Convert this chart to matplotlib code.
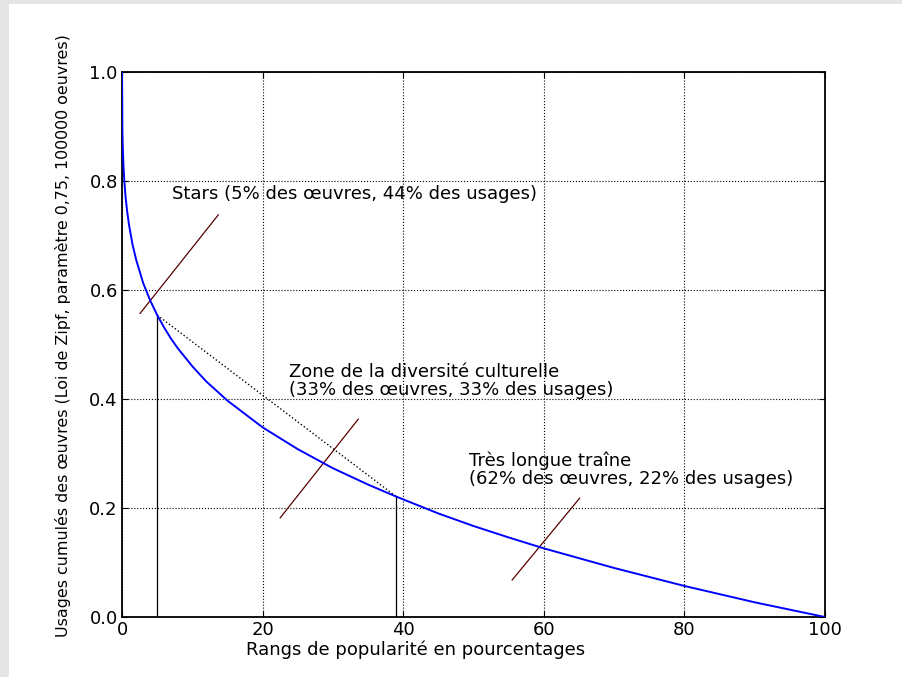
import numpy as np
import matplotlib.pyplot as plt
from matplotlib.patches import Rectangle

# rang (en % des oeuvres) et part cumulée restante des usages
rangs = [0, 0.05, 0.1, 0.2, 0.3, 0.5, 0.75, 1, 1.5, 2, 3, 4, 5, 6, 7, 8, 10, 12,
         15, 20, 25, 30, 35, 39, 45, 50, 55, 60, 70, 80, 90, 100]
usages = [1.0, 0.894, 0.864, 0.829, 0.805, 0.771, 0.742, 0.719, 0.683, 0.656,
          0.613, 0.581, 0.554, 0.531, 0.510, 0.492, 0.460, 0.432, 0.397, 0.348,
          0.308, 0.273, 0.243, 0.221, 0.190, 0.167, 0.146, 0.126, 0.090, 0.057,
          0.027, 0.0]

# bornes des zones
x_stars, y_stars = 5, 0.554
x_traine, y_traine = 39, 0.221

# traits de renvoi vers les textes
renvois = [((2.56, 13.7), (0.557, 0.738)),
           ((22.5, 33.6), (0.182, 0.363)),
           ((55.5, 65.1), (0.068, 0.218))]

textes = [(7.1, 0.776, "Stars (5% des œuvres, 44% des usages)"),
          (23.75, 0.433, "Zone de la diversité culturelle\n(33% des œuvres, 33% des usages)"),
          (49.4, 0.270, "Très longue traîne\n(62% des œuvres, 22% des usages)")]

plt.rcParams['font.family'] = ['DejaVu Sans']
plt.rcParams['xtick.direction'] = 'in'
plt.rcParams['ytick.direction'] = 'in'
plt.rcParams['xtick.top'] = True
plt.rcParams['ytick.right'] = True

fig = plt.figure(figsize=(9.02, 6.77), dpi=100)
fig.patch.set_facecolor('#e5e5e5')
fig.patches.append(Rectangle((9 / 902, 0), 1, 1 - 4 / 677, transform=fig.transFigure,
                             facecolor='white', edgecolor='none', zorder=-10))
ax = fig.add_axes([0.1353, 0.0886, 0.7793, 0.805])

ax.plot(rangs, usages, color='b', lw=1.4, zorder=3)
ax.plot([x_stars, x_stars], [0, y_stars], color='k', lw=0.9)
ax.plot([x_traine, x_traine], [0, y_traine], color='k', lw=0.9)
ax.plot([x_stars, x_traine], [y_stars, y_traine], color='k', ls=':', lw=1.0)

for xs, ys in renvois:
    ax.plot(xs, ys, color='#5a0000', lw=0.9)

for x, y, t in textes:
    ax.text(x, y, t, fontsize=13, ha='left', va='center', linespacing=0.95)

ax.set_xlim(0, 100)
ax.set_ylim(0, 1)
ax.set_xticks([0, 20, 40, 60, 80, 100])
ax.set_yticks([0, 0.2, 0.4, 0.6, 0.8, 1.0])
ax.set_yticklabels(['0.0', '0.2', '0.4', '0.6', '0.8', '1.0'])
ax.tick_params(labelsize=13, length=4, pad=3)
ax.grid(True, color='k', ls=':', lw=0.8)
for s in ax.spines.values():
    s.set_linewidth(1.3)

ax.set_xlabel("Rangs de popularité en pourcentages", fontsize=13, labelpad=1)
ax.set_ylabel("Usages cumulés des œuvres (Loi de Zipf, paramètre 0,75, 100000 oeuvres)",
              fontsize=11.4, labelpad=13)
# titres d'axes légèrement décentrés
ax.xaxis.label.set_x(0.4175)
ax.yaxis.label.set_y(0.5165)

fig.savefig('out.png', dpi=100, facecolor=fig.get_facecolor())
